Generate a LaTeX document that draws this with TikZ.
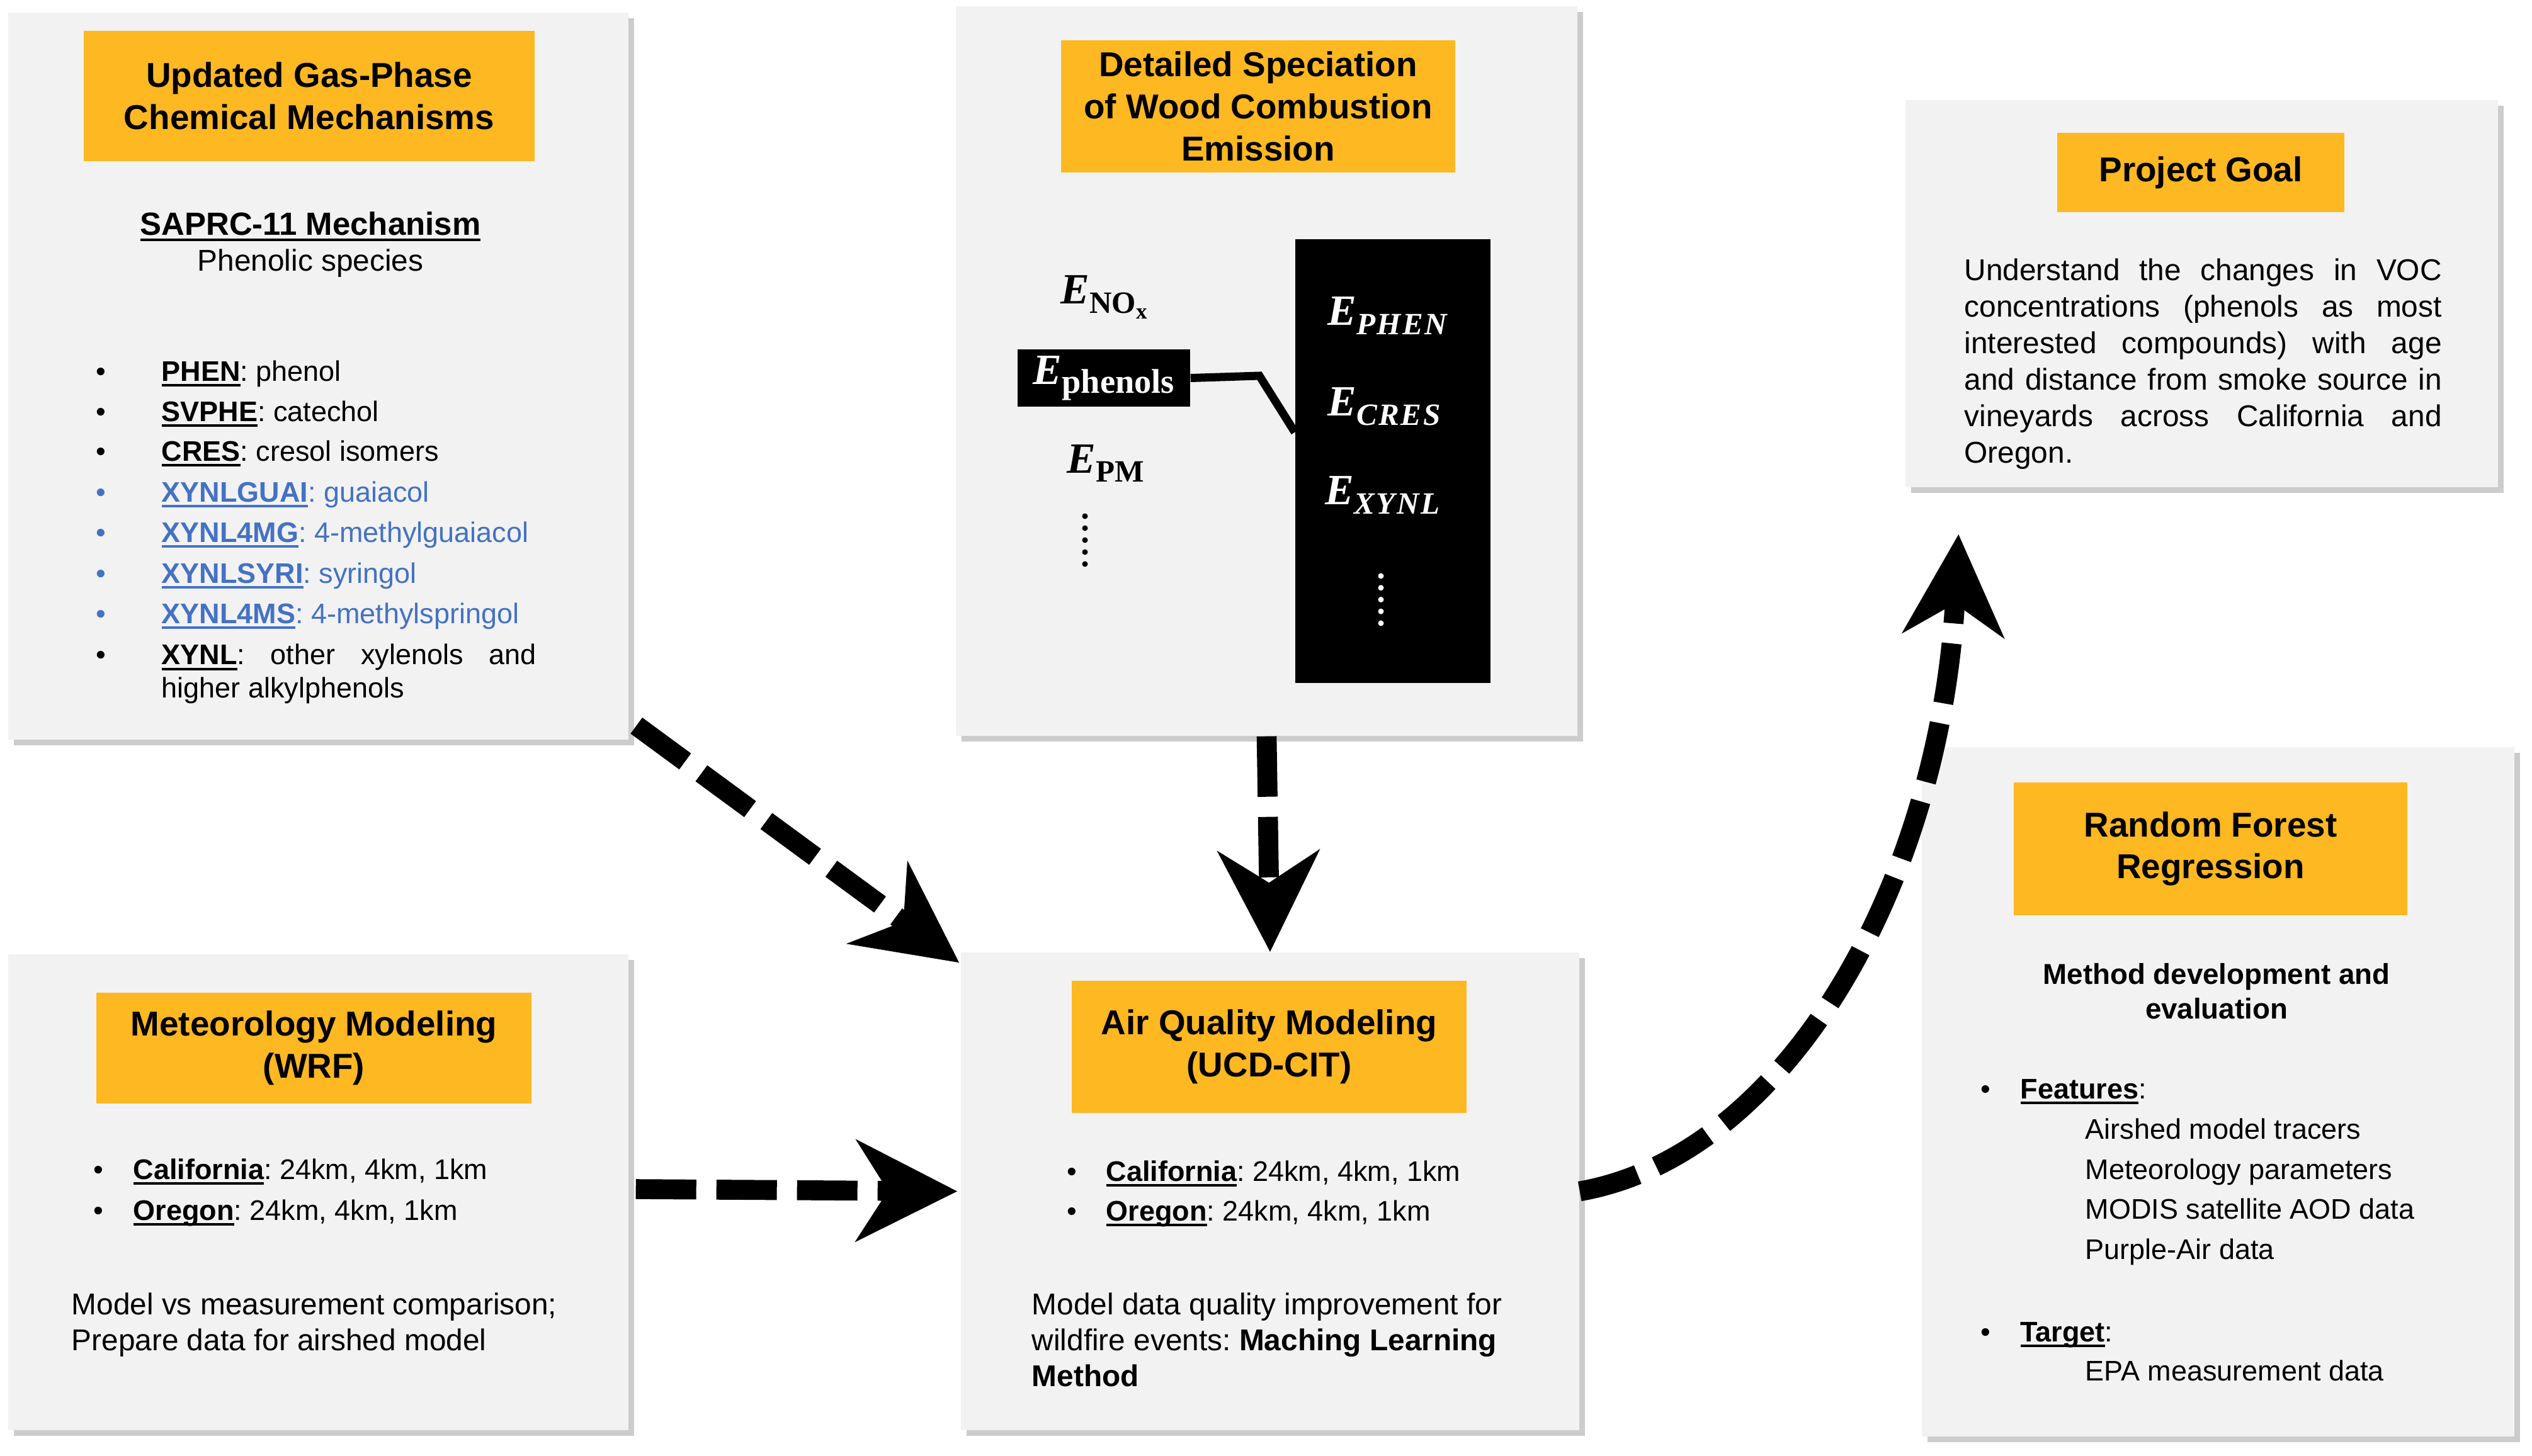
\documentclass[tikz,border=0pt]{standalone}
\usepackage{fontspec}
\setmainfont{Liberation Sans}
\newfontfamily\efont{Liberation Serif}
\newfontfamily\espaced[LetterSpace=5]{Liberation Serif}
\usetikzlibrary{arrows.meta,shadows,calc}
\frenchspacing

\definecolor{panelgray}{HTML}{F2F2F2}
\definecolor{headorange}{HTML}{FDB822}
\definecolor{speciesblue}{HTML}{4472C4}

\newcommand{\titlesize}{\fontsize{15.6}{19}\selectfont}
\newcommand{\listsize}{\fontsize{12.8}{18.2}\selectfont}
\newcommand{\parasize}{\fontsize{13.6}{16.2}\selectfont}
\newsavebox{\kwbox}
\newcommand{\keyword}[1]{\sbox{\kwbox}{\textbf{#1}}\rlap{\rule[-0.2em]{\wd\kwbox}{1.1pt}}\usebox{\kwbox}}
\newcommand{\bigE}{{\efont\bfseries\itshape\fontsize{19.5}{20}\selectfont E}}
\newcommand{\Eup}[2]{\bigE\raisebox{-0.14cm}{\efont\bfseries\fontsize{#1}{#1}\selectfont #2}}
\newcommand{\Eit}[1]{\bigE\raisebox{-0.15cm}{\espaced\bfseries\itshape\fontsize{14}{14}\selectfont #1}}

\begin{document}
\begin{tikzpicture}[
  panel/.style={fill=panelgray, inner sep=0pt, drop shadow={shadow xshift=0.9mm, shadow yshift=-0.9mm, fill=black!50, opacity=0.4}},
  headbox/.style={fill=headorange, inner sep=0pt, align=center, font=\titlesize\bfseries},
  listbullet/.style={anchor=base, inner sep=0pt, font=\listsize},
  listitem/.style={anchor=base west, inner sep=0pt, font=\listsize},
  para/.style={anchor=north west, inner sep=0pt, align=left, font=\parasize},
  elabel/.style={anchor=base west, inner sep=0pt},
  flowarrow/.style={line width=9pt, dash pattern=on 0.96cm off 0.32cm, -{Stealth[length=1.6cm, width=1.6cm, inset=0.5cm]}}
]

\useasboundingbox (0,0) rectangle (40.21,-23.12);

% Define panels
\node[panel, minimum width=9.85cm, minimum height=11.55cm] (chem) at (5.055,-5.975) {};
\node[panel, minimum width=9.87cm, minimum height=11.59cm] (emis) at (20.115,-5.895) {};
\node[panel, minimum width=9.41cm, minimum height=6.15cm] (goal) at (34.965,-4.665) {};
\node[panel, minimum width=9.85cm, minimum height=7.56cm] (met) at (5.055,-18.94) {};
\node[panel, minimum width=9.82cm, minimum height=7.59cm] (aq) at (20.17,-18.925) {};
\node[panel, minimum width=9.41cm, minimum height=10.95cm] (rf) at (35.225,-17.345) {};

% Headings
\node[headbox, minimum width=7.16cm, minimum height=2.07cm] (chemhead) at (4.91,-1.525) {Updated Gas-Phase\\Chemical Mechanisms};
\node[headbox, minimum width=6.26cm, minimum height=2.10cm] (emishead) at (19.98,-1.69) {Detailed Speciation\\of Wood Combustion\\Emission};
\node[headbox, minimum width=4.56cm, minimum height=1.26cm] (goalhead) at (34.95,-2.74) {Project Goal};
\node[headbox, minimum width=6.91cm, minimum height=1.76cm] (methead) at (4.985,-16.65) {Meteorology Modeling\\(WRF)};
\node[headbox, minimum width=6.27cm, minimum height=2.10cm] (aqhead) at (20.155,-16.63) {Air Quality Modeling\\(UCD-CIT)};
\node[headbox, minimum width=6.25cm, minimum height=2.11cm] (rfhead) at (35.105,-13.485) {Random Forest\\Regression};

% Mechanism panel
\node[anchor=base, inner sep=0pt, font=\fontsize{14.5}{17}\selectfont] (saprc) at (4.93,-3.73) {\keyword{SAPRC-11 Mechanism}};
\node[anchor=base, inner sep=0pt, font=\parasize] (phenolic) at (4.93,-4.30) {Phenolic species};

\node[listbullet] (b1) at (1.60,-6.05) {•};
\node[listitem] (phen) at (2.56,-6.05) {\keyword{PHEN}: phenol};
\node[listbullet] (b2) at (1.60,-6.69) {•};
\node[listitem] (svphe) at (2.56,-6.69) {\keyword{SVPHE}: catechol};
\node[listbullet] (b3) at (1.60,-7.32) {•};
\node[listitem] (cres) at (2.56,-7.32) {\keyword{CRES}: cresol isomers};
\node[listbullet, text=speciesblue] (b4) at (1.60,-7.97) {•};
\node[listitem, text=speciesblue] (guai) at (2.56,-7.97) {\keyword{XYNLGUAI}: guaiacol};
\node[listbullet, text=speciesblue] (b5) at (1.60,-8.61) {•};
\node[listitem, text=speciesblue] (mguai) at (2.56,-8.61) {\keyword{XYNL4MG}: 4-methylguaiacol};
\node[listbullet, text=speciesblue] (b6) at (1.60,-9.26) {•};
\node[listitem, text=speciesblue] (syri) at (2.56,-9.26) {\keyword{XYNLSYRI}: syringol};
\node[listbullet, text=speciesblue] (b7) at (1.60,-9.90) {•};
\node[listitem, text=speciesblue] (msyri) at (2.56,-9.90) {\keyword{XYNL4MS}: 4-methylspringol};
\node[listbullet] (b8) at (1.60,-10.55) {•};
\node[listitem, anchor=north west, align=left, font=\fontsize{12.8}{15.1}\selectfont] (xynl) at (2.56,-10.178)
  {\strut\makebox[5.95cm][s]{\keyword{XYNL}: other xylenols and}\\higher alkylphenols};

% Emission panel
\node[elabel] (enox) at (16.84,-4.82) {\bigE\raisebox{-0.15cm}{\efont\bfseries\fontsize{14}{14}\selectfont NO\raisebox{-0.09cm}{\fontsize{10}{10}\selectfont x}}};
\node[fill=black, text=white, minimum width=2.74cm, minimum height=0.91cm, inner sep=0pt] (ephen) at (17.53,-6.005) {\Eup{15.5}{phenols}};
\node[elabel] (epm) at (16.94,-7.51) {\Eup{14}{PM}};
\foreach \k in {0,...,4}
  \fill (17.23,{-8.20-0.19*\k}) circle (0.045);

\node[fill=black, minimum width=3.10cm, minimum height=7.05cm, inner sep=0pt] (specbox) at (22.12,-7.325) {};
\node[elabel, text=white] (ephenol) at (21.08,-5.16) {\Eit{PHEN}};
\node[elabel, text=white] (ecres) at (21.08,-6.60) {\Eit{CRES}};
\node[elabel, text=white] (exynl) at (21.04,-8.01) {\Eit{XYNL}};
\foreach \k in {0,...,4}
  \fill[white] (21.93,{-9.15-0.1875*\k}) circle (0.045);

% Link lumped phenols to the detailed species
\coordinate (bend) at (20.00,-5.97);
\draw[line width=3.7pt] (ephen.east) -- (bend) -- ($(specbox.north west)!0.435!(specbox.south west)$);

% Project goal panel
\node[para, font=\fontsize{13.6}{16.5}\selectfont] (goaltext) at (31.19,-4.044)
  {\strut\makebox[7.58cm][s]{Understand the changes in VOC}\\
   \makebox[7.58cm][s]{concentrations (phenols as most}\\
   \makebox[7.58cm][s]{interested compounds) with age}\\
   \makebox[7.58cm][s]{and distance from smoke source in}\\
   \makebox[7.58cm][s]{vineyards across California and}\\
   Oregon.};

% Meteorology panel
\node[listbullet] (mb1) at (1.56,-18.73) {•};
\node[listitem] (metca) at (2.11,-18.73) {\keyword{California}: 24km, 4km, 1km};
\node[listbullet] (mb2) at (1.56,-19.38) {•};
\node[listitem] (metor) at (2.11,-19.38) {\keyword{Oregon}: 24km, 4km, 1km};
\node[para] (metnote) at (1.13,-20.48) {\strut Model vs measurement comparison;\\Prepare data for airshed model};

% Air quality panel
\node[listbullet] (ab1) at (17.02,-18.76) {•};
\node[listitem] (aqca) at (17.56,-18.76) {\keyword{California}: 24km, 4km, 1km};
\node[listbullet] (ab2) at (17.02,-19.39) {•};
\node[listitem] (aqor) at (17.56,-19.39) {\keyword{Oregon}: 24km, 4km, 1km};
\node[para] (aqnote) at (16.38,-20.48) {\strut Model data quality improvement for\\wildfire events: \textbf{Maching Learning}\\\textbf{Method}};

% Random forest panel
\node[anchor=north, inner sep=0pt, align=center, font=\fontsize{13}{15.6}\selectfont\bfseries] (rfmethod) at (35.20,-15.246) {\strut Method development and\\evaluation};
\node[listbullet] (rb1) at (31.53,-17.45) {•};
\node[listitem] (feat) at (32.08,-17.45) {\keyword{Features}:};
\node[listitem] (tracer) at (33.11,-18.09) {Airshed model tracers};
\node[listitem] (metpar) at (33.11,-18.73) {Meteorology parameters};
\node[listitem] (modis) at (33.11,-19.36) {MODIS satellite AOD data};
\node[listitem] (purple) at (33.11,-20.00) {Purple-Air data};
\node[listbullet] (rb2) at (31.53,-21.31) {•};
\node[listitem] (target) at (32.08,-21.31) {\keyword{Target}:};
\node[listitem] (epa) at (33.11,-21.93) {EPA measurement data};

% Flow arrows
\coordinate (chemout) at ($(chem.south east)+(0.12,0.23)$);
\coordinate (aqin) at ($(aq.north west)+(-0.02,-0.17)$);
\coordinate (metout) at ($(met.east)+(0.11,0.05)$);
\coordinate (aqleft) at ($(aq.west)+(-0.05,0)$);
\coordinate (goalin) at ($(goal.south west)+(0.85,-0.74)$);

\draw[flowarrow] (chemout) -- (aqin);
\draw[flowarrow] (emis.south) -- (aq.north);
\draw[flowarrow] (metout) -- (aqleft);
\draw[flowarrow] (aq.east) .. controls ($(aq.east)+(3.30,0.58)$) and ($(goalin)+(-0.29,-5.52)$) .. (goalin);

\end{tikzpicture}
\end{document}
